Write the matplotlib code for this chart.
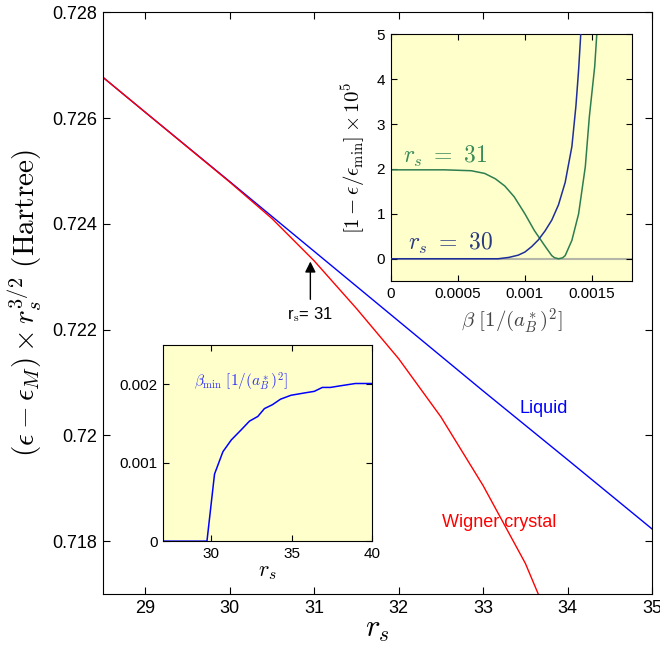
import matplotlib
matplotlib.use('Agg')
import matplotlib.pyplot as plt
from matplotlib.ticker import FuncFormatter

plt.rcParams['font.family'] = ['Liberation Sans', 'DejaVu Sans']
plt.rcParams['mathtext.fontset'] = 'cm'

# main panel: energies vs r_s
rs_liquid = [28.5, 29.0, 30.0, 31.0, 32.0, 33.0, 34.0, 35.0]
e_liquid = [0.72677, 0.72611, 0.72480, 0.72348, 0.72216, 0.72084, 0.71954, 0.71823]

rs_crystal = [28.5, 29.0, 29.5, 30.0, 30.5, 31.0, 31.5, 32.0, 32.5, 33.0, 33.5, 34.0]
e_crystal = [0.72677, 0.72611, 0.72545, 0.72479, 0.72410, 0.72330, 0.72240,
             0.72145, 0.72035, 0.71905, 0.71758, 0.71568]

# inset 1: 1 - eps/eps_min (x1e5) vs beta
beta_31 = [0, 0.0002, 0.0004, 0.0006, 0.0007, 0.00078, 0.00085, 0.00092, 0.001,
           0.00107, 0.00115, 0.0012, 0.00122, 0.00125, 0.00128, 0.0013, 0.00135,
           0.0014, 0.00145, 0.00148, 0.00152, 0.00154]
dev_31 = [1.98, 1.98, 1.98, 1.96, 1.9, 1.78, 1.62, 1.38, 1.0,
          0.63, 0.28, 0.07, 0.025, 0.0, 0.02, 0.07, 0.41,
          1.0, 2.05, 3.16, 4.28, 5.2]

beta_30 = [0, 0.0004, 0.0008, 0.00088, 0.00095, 0.001, 0.00105, 0.0011, 0.00115,
           0.0012, 0.00125, 0.0013, 0.00135, 0.00138, 0.0014, 0.00142]
dev_30 = [0.0, 0.0, 0.0, 0.03, 0.08, 0.15, 0.27, 0.42, 0.62,
          0.86, 1.2, 1.7, 2.5, 3.4, 4.2, 5.2]

# inset 2: beta_min vs r_s
rs_bmin = [27.0, 29.73, 30.2, 30.72, 31.24, 31.86, 32.37, 32.89, 33.3, 33.8, 34.3,
           34.95, 35.8, 36.4, 36.9, 37.4, 38.0, 38.95, 40.0]
beta_min = [0, 0, 0.000855, 0.00114, 0.00129, 0.00142, 0.00153, 0.00159, 0.00169,
            0.00174, 0.00181, 0.00186, 0.00189, 0.00191, 0.00196, 0.00196, 0.00198,
            0.00201, 0.00201]

inset_bg = '#ffffcc'
green = '#2e7d4f'
navy = '#1f2f99'

fig = plt.figure(figsize=(6.6, 6.45), dpi=100)
ax = fig.add_axes([0.156, 0.079, 0.832, 0.902])
ax.plot(rs_liquid, e_liquid, color='#0000ff', lw=1.0)
ax.plot(rs_crystal, e_crystal, color='#ff0000', lw=1.0)
ax.set_xlim(28.5, 35)
ax.set_ylim(0.717, 0.728)
ax.set_xticks([29, 30, 31, 32, 33, 34, 35])
ax.set_yticks([0.718, 0.720, 0.722, 0.724, 0.726, 0.728])
ax.yaxis.set_major_formatter(FuncFormatter(lambda v, p: '%g' % round(v, 4)))
ax.tick_params(direction='in', top=True, right=True, length=5, labelsize=13, pad=4)
ax.set_xlabel(r'$r_s$', fontsize=22, labelpad=-2)
ax.set_ylabel(r'$(\epsilon - \epsilon_M) \times r_s^{3/2}\ \mathrm{(Hartree)}$', fontsize=21, labelpad=6)
ax.text(33.43, 0.7205, 'Liquid', color='#0000ff', fontsize=13, va='center')
ax.text(32.51, 0.71836, 'Wigner crystal', color='#ff0000', fontsize=13, va='center')
ax.annotate('', xy=(30.955, 0.72334), xytext=(30.955, 0.72252),
            arrowprops=dict(arrowstyle='-|>', color='k', lw=1.0, mutation_scale=16))
ax.text(30.955, 0.72228, r'r$_\mathrm{s}$= 31', fontsize=12, ha='center', va='center')

# inset 1
ax1 = fig.add_axes([0.592, 0.564, 0.366, 0.383])
ax1.set_facecolor(inset_bg)
ax1.axhline(0, color='#b5b5a8', lw=1.5, zorder=1)
ax1.plot(beta_31, dev_31, color=green, lw=1.1, zorder=2)
ax1.plot(beta_30, dev_30, color=navy, lw=1.1, zorder=3)
ax1.set_xlim(0, 0.0018)
ax1.set_ylim(-0.5, 5)
ax1.set_xticks([0, 0.0005, 0.001, 0.0015])
ax1.set_xticklabels(['0', '0.0005', '0.001', '0.0015'])
ax1.set_yticks([0, 1, 2, 3, 4, 5])
ax1.tick_params(direction='in', top=True, right=True, length=4, labelsize=11, pad=4)
ax1.set_xlabel(r'$\beta\ [1/(a_B^*)^2]$', fontsize=15, color='#444444', labelpad=4)
ax1.set_ylabel(r'$[1-\epsilon/\epsilon_{\min}]\times 10^5$', fontsize=15, labelpad=6)
ax1.text(0.00009, 2.27, r'$r_s\ =\ 31$', color='#3a8a5a', fontsize=17, va='center')
ax1.text(0.00013, 0.33, r'$r_s\ =\ 30$', color='#2a3a80', fontsize=17, va='center')

# inset 2
ax2 = fig.add_axes([0.247, 0.161, 0.317, 0.304])
ax2.set_facecolor(inset_bg)
ax2.plot(rs_bmin, beta_min, color='#0000ff', lw=1.1)
ax2.set_xlim(27, 40)
ax2.set_ylim(0, 0.0025)
ax2.set_xticks([30, 35, 40])
ax2.set_yticks([0, 0.001, 0.002])
ax2.set_yticklabels(['0', '0.001', '0.002'])
ax2.tick_params(direction='in', top=True, right=True, length=4, labelsize=11, pad=4)
ax2.set_xlabel(r'$r_s$', fontsize=16, labelpad=0)
ax2.text(28.95, 0.00203, r'$\beta_{\min}\ [1/(a_B^*)^2]$', color='#3333ff', fontsize=11, va='center')

fig.savefig('out.png', dpi=100)
